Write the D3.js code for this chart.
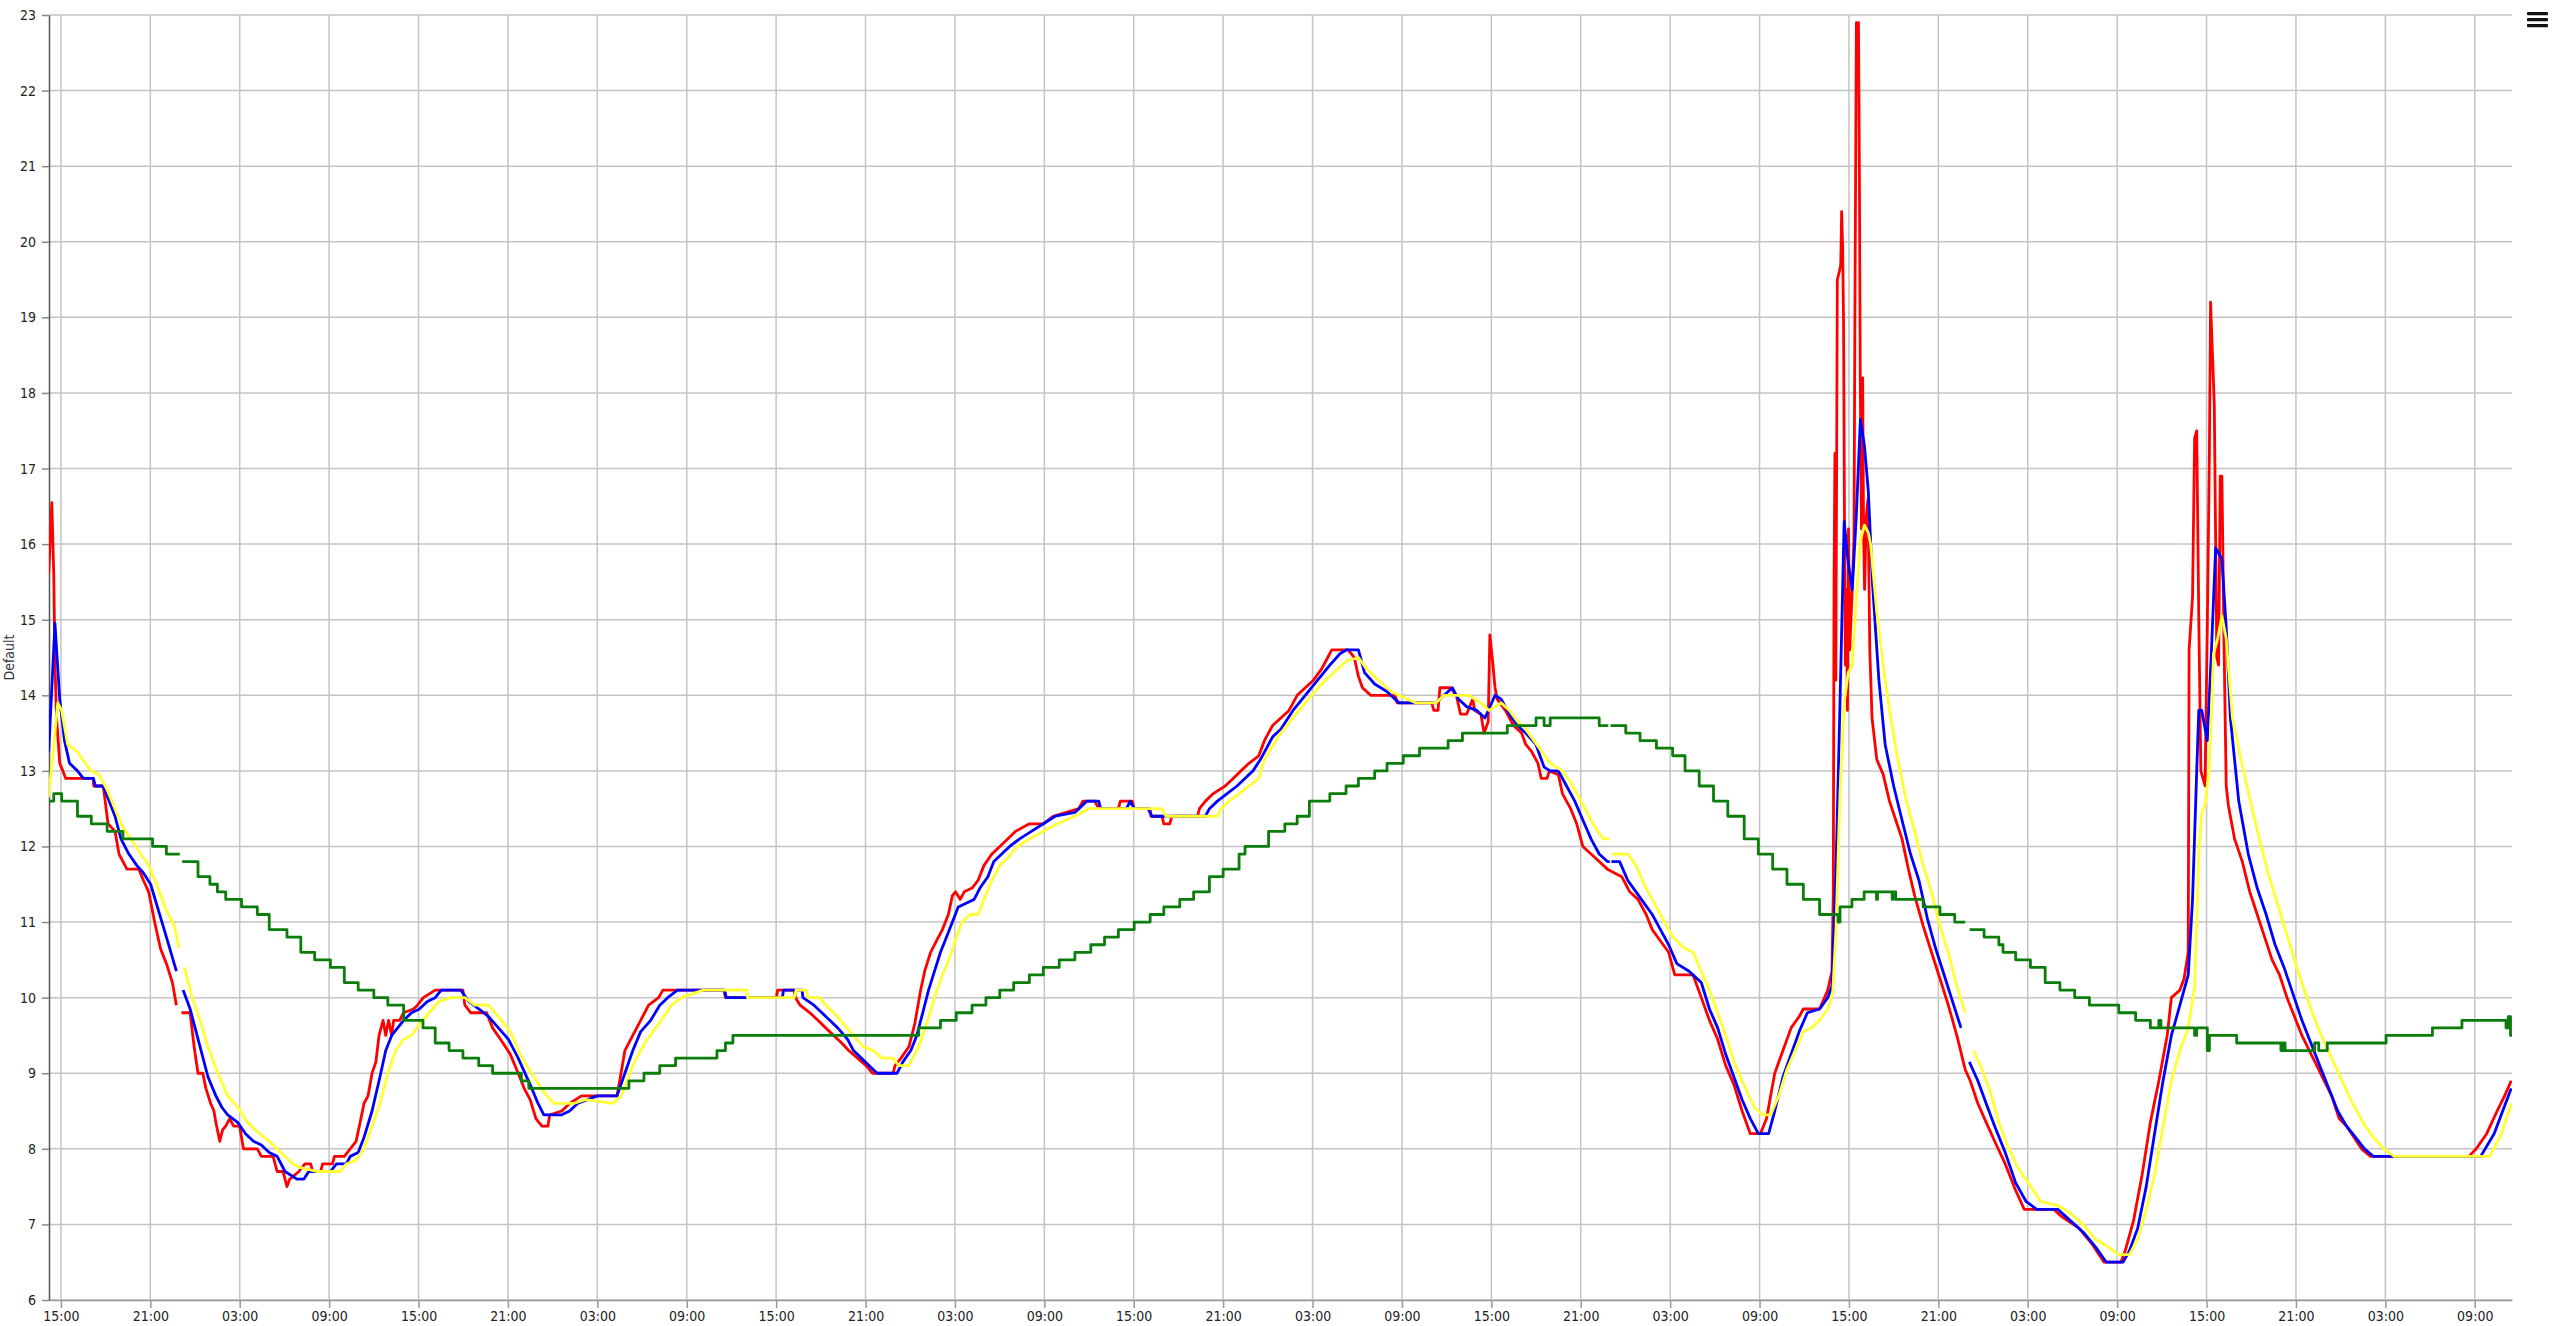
<!DOCTYPE html>
<html><head><meta charset="utf-8">
<script src="https://cdn.jsdelivr.net/npm/d3@7"></script>
<style>html,body{margin:0;padding:0;background:#fff;overflow:hidden}svg{display:block}</style>
</head><body>
<svg id="chart" width="2560" height="1326"></svg>
<script>
// ---- data: time in hours after the first 15:00 tick, value ----
const xTickHours = [0,6,12,18,24,30,36,42,48,54,60,66,72,78,84,90,96,102,108,114,120,126,132,138,144,150,156,162];
const xTickLabels = ["15:00","21:00","03:00","09:00","15:00","21:00","03:00","09:00","15:00","21:00","03:00","09:00","15:00","21:00","03:00","09:00","15:00","21:00","03:00","09:00","15:00","21:00","03:00","09:00","15:00","21:00","03:00","09:00"];
const yTicks = [6,7,8,9,10,11,12,13,14,15,16,17,18,19,20,21,22,23];
const yTitle = "Default";

const red = [[-0.82,15.6],[-0.61,16.55],[-0.48,15.6],[-0.4,14.4],[-0.29,13.7],[-0.08,13.1],[0.13,13.0],[0.32,12.9],[2.17,12.9],[2.2,12.8],[2.84,12.8],[2.97,12.6],[3.16,12.3],[3.63,12.2],[3.9,11.9],[4.43,11.7],[5.23,11.7],[5.54,11.55],[5.89,11.4],[6.29,11.0],[6.68,10.65],[7.08,10.45],[7.48,10.2],[7.75,9.9],[7.9,null],[8.09,9.8],[8.67,9.8],[8.94,9.35],[9.2,9.0],[9.52,9.0],[9.73,8.8],[10.05,8.6],[10.27,8.5],[10.4,8.35],[10.66,8.1],[10.85,8.25],[11.06,8.3],[11.33,8.4],[11.59,8.3],[11.99,8.3],[12.25,8.0],[13.18,8.0],[13.45,7.9],[14.24,7.9],[14.51,7.7],[14.91,7.7],[15.17,7.5],[15.36,7.6],[15.97,7.7],[16.37,7.8],[16.76,7.8],[16.9,7.7],[17.43,7.7],[17.56,7.8],[18.22,7.8],[18.36,7.9],[19.02,7.9],[19.81,8.1],[20.08,8.35],[20.34,8.6],[20.61,8.7],[20.88,9.0],[21.14,9.15],[21.35,9.5],[21.62,9.7],[21.8,9.5],[21.99,9.7],[22.2,9.5],[22.33,9.7],[22.73,9.7],[23.0,9.8],[23.66,9.85],[23.93,9.9],[24.32,10.0],[25.12,10.1],[26.98,10.1],[27.11,9.9],[27.51,9.8],[28.57,9.8],[28.97,9.6],[29.5,9.45],[30.16,9.25],[30.69,9.0],[31.09,8.8],[31.49,8.65],[31.88,8.4],[32.28,8.3],[32.68,8.3],[32.81,8.45],[33.61,8.5],[34.14,8.6],[34.93,8.7],[37.32,8.7],[37.59,9.0],[37.85,9.3],[38.38,9.5],[38.91,9.7],[39.44,9.9],[40.11,10.0],[40.4,10.1],[44.49,10.1],[44.6,10.0],[48.02,10.0],[48.1,10.1],[49.2,10.1],[49.3,10.0],[49.61,9.9],[50.27,9.8],[50.8,9.7],[51.33,9.6],[51.86,9.5],[52.4,9.4],[52.87,9.3],[53.46,9.2],[54.04,9.1],[54.47,9.0],[55.85,9.0],[55.98,9.1],[56.38,9.2],[56.91,9.35],[57.3,9.65],[57.7,10.1],[57.97,10.35],[58.37,10.6],[58.76,10.75],[59.16,10.9],[59.56,11.1],[59.83,11.35],[60.04,11.4],[60.36,11.3],[60.62,11.4],[61.15,11.45],[61.55,11.55],[61.95,11.75],[62.48,11.9],[63.01,12.0],[63.54,12.1],[64.07,12.2],[65.0,12.3],[65.93,12.3],[66.59,12.4],[68.32,12.5],[68.58,12.6],[69.38,12.6],[69.65,12.5],[70.97,12.5],[71.1,12.6],[71.9,12.6],[72.03,12.5],[73.1,12.5],[73.15,12.4],[73.89,12.4],[74.02,12.3],[74.42,12.3],[74.56,12.4],[76.28,12.4],[76.41,12.5],[76.81,12.6],[77.34,12.7],[78.14,12.8],[78.67,12.9],[79.2,13.0],[79.73,13.1],[80.39,13.2],[80.77,13.4],[81.32,13.6],[81.87,13.7],[82.42,13.8],[82.97,14.0],[83.51,14.1],[84.06,14.2],[84.61,14.35],[85.02,14.5],[85.29,14.6],[86.39,14.6],[86.8,14.5],[87.08,14.25],[87.35,14.1],[87.9,14.0],[89.54,14.0],[89.68,13.9],[92.0,13.9],[92.14,13.8],[92.42,13.8],[92.55,14.1],[93.24,14.1],[93.65,14.0],[93.93,13.75],[94.34,13.75],[94.75,13.95],[94.88,13.8],[95.3,13.75],[95.51,13.5],[95.79,13.65],[95.9,14.8],[96.06,14.5],[96.25,14.1],[96.39,13.95],[96.94,13.8],[97.49,13.6],[98.03,13.5],[98.31,13.35],[98.72,13.25],[99.13,13.1],[99.35,12.9],[99.73,12.9],[99.9,13.0],[100.5,12.95],[100.77,12.7],[101.32,12.5],[101.73,12.3],[102.14,12.0],[102.69,11.9],[103.24,11.8],[103.79,11.7],[104.75,11.6],[105.29,11.4],[105.84,11.3],[106.39,11.1],[106.8,10.9],[107.35,10.75],[107.9,10.6],[108.31,10.3],[109.54,10.3],[110.09,10.0],[110.64,9.7],[111.19,9.45],[111.73,9.1],[112.28,8.85],[112.83,8.5],[113.38,8.2],[114.06,8.2],[114.47,8.4],[115.02,9.0],[115.57,9.3],[116.12,9.6],[116.66,9.75],[116.94,9.85],[118.03,9.85],[118.58,10.1],[118.86,10.35],[118.95,11.4],[119.0,15.5],[119.06,17.2],[119.12,14.2],[119.22,19.5],[119.35,19.6],[119.45,19.7],[119.51,20.4],[119.58,19.9],[119.64,18.9],[119.7,16.3],[119.76,14.4],[119.82,15.4],[119.9,13.8],[119.97,16.2],[120.05,14.6],[120.2,15.3],[120.34,16.1],[120.4,19.0],[120.5,22.9],[120.64,22.9],[120.7,21.0],[120.76,18.2],[120.84,16.2],[120.92,18.2],[120.98,16.2],[121.05,15.4],[121.16,16.35],[121.28,16.6],[121.4,14.6],[121.55,13.7],[121.87,13.15],[122.3,12.95],[122.72,12.6],[123.14,12.35],[123.56,12.1],[123.99,11.7],[124.41,11.35],[124.98,10.95],[125.54,10.6],[126.11,10.25],[126.67,9.9],[127.24,9.5],[127.8,9.05],[128.14,8.9],[128.65,8.6],[129.21,8.35],[129.78,8.1],[130.49,7.8],[131.19,7.45],[131.76,7.2],[133.73,7.2],[134.3,7.1],[135.43,6.95],[136.28,6.75],[137.12,6.5],[138.25,6.5],[138.54,6.65],[139.1,7.05],[139.67,7.65],[140.23,8.35],[140.8,8.9],[141.36,9.5],[141.64,10.0],[142.21,10.1],[142.49,10.25],[142.77,10.6],[142.83,14.6],[143.06,15.3],[143.2,17.4],[143.34,17.5],[143.48,15.0],[143.62,13.0],[143.9,12.8],[144.05,14.9],[144.19,17.2],[144.27,19.2],[144.38,18.6],[144.52,17.85],[144.69,14.5],[144.81,14.4],[144.92,16.9],[145.03,16.9],[145.18,14.6],[145.32,12.8],[145.46,12.55],[145.88,12.1],[146.4,11.8],[146.9,11.4],[147.4,11.1],[147.9,10.8],[148.4,10.5],[148.9,10.3],[149.4,10.0],[149.9,9.75],[150.4,9.5],[150.9,9.3],[151.4,9.1],[151.9,8.9],[152.4,8.7],[152.9,8.4],[153.4,8.3],[153.9,8.15],[154.4,8.0],[155.0,7.9],[161.6,7.9],[162.1,8.0],[162.8,8.2],[163.5,8.5],[164.0,8.7],[164.45,8.9]];

const blue = [[-0.82,13.25],[-0.4,14.95],[-0.08,13.95],[0.24,13.4],[0.58,13.1],[1.11,13.0],[1.51,12.9],[2.18,12.9],[2.31,12.8],[2.84,12.8],[3.24,12.6],[3.63,12.4],[4.03,12.1],[4.56,11.9],[5.09,11.75],[5.54,11.65],[6.02,11.5],[6.55,11.15],[7.08,10.8],[7.75,10.35],[8.0,null],[8.2,10.1],[8.67,9.85],[8.94,9.65],[9.34,9.35],[9.87,8.95],[10.4,8.7],[10.8,8.55],[11.19,8.45],[11.86,8.35],[12.39,8.2],[12.92,8.1],[13.45,8.05],[13.98,7.95],[14.51,7.9],[15.04,7.7],[15.84,7.6],[16.31,7.6],[16.63,7.7],[18.09,7.7],[18.49,7.8],[19.15,7.8],[19.42,7.9],[19.95,7.95],[20.34,8.15],[20.88,8.5],[21.41,8.95],[21.8,9.3],[22.2,9.5],[22.6,9.6],[23.0,9.7],[23.53,9.8],[24.06,9.85],[24.59,9.95],[25.12,10.0],[25.52,10.1],[26.84,10.1],[27.37,9.95],[28.04,9.85],[28.7,9.75],[29.36,9.6],[30.03,9.45],[30.69,9.2],[31.49,8.85],[32.02,8.6],[32.41,8.45],[33.61,8.45],[34.14,8.5],[34.67,8.6],[36.0,8.7],[37.32,8.7],[37.85,9.0],[38.38,9.3],[38.91,9.55],[39.58,9.7],[40.19,9.9],[40.72,10.0],[41.38,10.1],[44.55,10.1],[44.65,10.0],[48.41,10.0],[48.5,10.1],[49.74,10.1],[49.8,10.0],[50.54,9.9],[51.07,9.8],[51.6,9.7],[52.13,9.6],[52.79,9.45],[53.19,9.3],[53.72,9.2],[54.25,9.1],[54.78,9.0],[56.11,9.0],[56.51,9.15],[57.04,9.3],[57.44,9.5],[57.84,9.8],[58.23,10.1],[58.63,10.35],[59.03,10.6],[59.43,10.8],[59.83,11.0],[60.22,11.2],[60.75,11.25],[61.29,11.3],[61.68,11.45],[62.21,11.6],[62.61,11.8],[63.14,11.9],[63.67,12.0],[64.34,12.1],[65.13,12.2],[65.93,12.3],[66.73,12.4],[68.05,12.45],[68.85,12.6],[69.65,12.6],[69.78,12.5],[71.5,12.5],[71.77,12.6],[72.03,12.5],[72.96,12.5],[73.23,12.4],[76.81,12.4],[77.08,12.5],[77.61,12.6],[78.27,12.7],[78.93,12.8],[79.46,12.9],[80.0,13.0],[80.5,13.15],[81.32,13.45],[81.87,13.55],[82.69,13.8],[83.51,14.0],[84.34,14.2],[85.16,14.4],[85.84,14.55],[86.25,14.6],[87.08,14.6],[87.49,14.3],[88.17,14.15],[88.99,14.05],[89.81,13.9],[92.28,13.9],[92.83,14.0],[93.38,14.1],[93.79,13.95],[94.34,13.85],[95.02,13.8],[95.57,13.7],[96.25,14.0],[96.66,13.95],[97.21,13.75],[97.76,13.6],[98.31,13.5],[98.99,13.35],[99.54,13.05],[99.95,13.0],[100.5,13.0],[101.05,12.8],[101.6,12.6],[102.14,12.35],[102.69,12.1],[103.24,11.9],[103.79,11.8],[103.95,11.8],[104.0,null],[104.06,11.8],[104.61,11.8],[105.16,11.55],[105.71,11.4],[106.25,11.25],[106.8,11.1],[107.35,10.9],[107.9,10.7],[108.45,10.45],[109.27,10.35],[110.09,10.2],[110.64,9.85],[111.19,9.6],[111.73,9.25],[112.28,8.95],[112.83,8.65],[113.38,8.4],[113.92,8.2],[114.61,8.2],[115.02,8.5],[115.57,8.95],[116.12,9.25],[116.66,9.55],[117.21,9.8],[118.03,9.85],[118.58,10.0],[118.86,10.15],[119.13,11.7],[119.4,13.9],[119.68,16.3],[119.95,15.75],[120.22,15.4],[120.5,16.4],[120.77,17.65],[121.04,17.3],[121.3,16.7],[121.59,15.45],[122.01,14.2],[122.43,13.35],[123.0,12.8],[123.56,12.35],[124.13,11.9],[124.7,11.55],[125.26,11.05],[125.82,10.65],[126.39,10.3],[126.95,9.95],[127.52,9.6],[127.8,null],[128.08,9.15],[128.65,8.9],[129.21,8.6],[129.78,8.3],[130.49,7.95],[131.19,7.55],[131.9,7.3],[132.6,7.2],[134.02,7.2],[134.58,7.1],[135.71,6.9],[136.56,6.7],[137.27,6.5],[138.39,6.5],[138.82,6.65],[139.38,6.95],[139.95,7.5],[140.51,8.2],[141.08,8.9],[141.64,9.5],[142.21,9.9],[142.77,10.3],[143.06,11.3],[143.34,13.0],[143.48,13.8],[143.68,13.8],[144.05,13.4],[144.33,14.6],[144.61,15.95],[145.03,15.8],[145.32,14.9],[145.6,13.7],[146.16,12.6],[146.8,11.9],[147.4,11.45],[148.0,11.1],[148.6,10.7],[149.2,10.4],[149.8,10.05],[150.4,9.7],[151.0,9.4],[151.6,9.1],[152.2,8.8],[152.8,8.5],[153.4,8.3],[154.0,8.15],[154.6,8.0],[155.2,7.9],[162.4,7.9],[163.3,8.2],[164.45,8.8]];

const yellow = [[-0.82,12.65],[-0.21,13.9],[0.05,13.8],[0.45,13.35],[1.11,13.25],[1.64,13.1],[2.04,13.0],[2.57,12.95],[3.1,12.75],[3.63,12.5],[4.16,12.25],[4.69,12.1],[5.36,11.9],[5.89,11.75],[6.42,11.5],[7.08,11.15],[7.61,10.95],[7.93,10.65],[8.1,null],[8.28,10.4],[8.81,10.0],[9.34,9.7],[9.87,9.35],[10.53,9.0],[11.19,8.7],[11.86,8.55],[12.52,8.35],[13.32,8.2],[13.98,8.1],[14.77,7.95],[15.57,7.8],[16.1,7.75],[17.16,7.7],[18.75,7.7],[19.15,7.8],[19.81,7.85],[20.34,8.0],[20.88,8.3],[21.41,8.6],[21.94,9.0],[22.47,9.3],[23.0,9.45],[23.53,9.5],[24.06,9.65],[24.72,9.8],[25.38,9.95],[26.18,10.0],[27.11,10.0],[27.77,9.9],[28.7,9.9],[29.36,9.75],[30.16,9.55],[30.95,9.2],[31.75,8.95],[32.41,8.75],[33.08,8.6],[34.4,8.6],[35.2,8.65],[37.06,8.6],[37.59,8.7],[38.38,9.1],[39.18,9.4],[40.11,9.65],[40.98,9.9],[41.65,10.0],[43.1,10.1],[46.03,10.1],[46.08,10.0],[49.21,10.0],[49.34,10.1],[50.0,10.1],[50.14,10.0],[50.94,10.0],[51.33,9.9],[51.86,9.8],[52.53,9.65],[53.19,9.5],[53.85,9.35],[54.52,9.3],[55.1,9.2],[55.85,9.2],[56.24,9.1],[56.91,9.1],[57.17,9.2],[57.57,9.35],[58.1,9.65],[58.63,10.0],[59.16,10.3],[59.69,10.55],[60.09,10.8],[60.49,11.0],[61.02,11.1],[61.55,11.1],[61.95,11.3],[62.48,11.55],[63.01,11.75],[63.54,11.85],[64.2,12.0],[65.0,12.1],[65.93,12.2],[66.86,12.3],[68.05,12.4],[68.98,12.5],[73.89,12.5],[74.16,12.4],[77.61,12.4],[77.88,12.5],[78.4,12.6],[79.07,12.7],[79.73,12.8],[80.39,12.9],[80.77,13.15],[81.87,13.5],[82.69,13.7],[83.51,13.9],[84.61,14.15],[85.71,14.35],[86.25,14.45],[87.08,14.5],[87.62,14.35],[88.44,14.2],[89.27,14.05],[89.81,14.0],[90.91,13.9],[92.28,13.9],[92.83,14.0],[94.47,14.0],[95.3,13.9],[95.84,13.8],[96.66,13.9],[97.21,13.8],[97.76,13.65],[98.31,13.55],[98.86,13.4],[99.4,13.25],[99.95,13.1],[100.77,13.0],[101.32,12.85],[101.87,12.65],[102.42,12.45],[102.97,12.25],[103.51,12.1],[103.92,12.1],[104.0,null],[104.06,11.9],[105.16,11.9],[105.71,11.75],[106.25,11.5],[106.8,11.3],[107.35,11.1],[108.17,10.8],[108.99,10.65],[109.54,10.6],[110.09,10.35],[110.64,10.1],[111.19,9.8],[111.73,9.5],[112.28,9.15],[112.83,8.9],[113.65,8.55],[114.2,8.45],[114.75,8.45],[115.29,8.7],[115.84,9.05],[116.39,9.3],[116.94,9.55],[117.49,9.6],[118.03,9.7],[118.58,9.85],[118.91,10.05],[119.13,10.9],[119.4,12.7],[119.68,13.9],[119.95,14.3],[120.22,14.4],[120.5,15.3],[120.77,16.05],[121.04,16.25],[121.3,16.15],[121.45,16.0],[121.87,15.1],[122.29,14.4],[122.72,13.8],[123.28,13.15],[123.85,12.6],[124.41,12.2],[124.98,11.75],[125.54,11.4],[126.11,10.95],[126.67,10.6],[127.24,10.15],[127.8,9.8],[127.95,null],[128.37,9.3],[128.93,9.05],[129.5,8.75],[130.06,8.35],[130.63,8.05],[131.33,7.75],[132.04,7.55],[132.89,7.3],[134.02,7.25],[134.86,7.15],[135.71,7.0],[136.56,6.8],[137.41,6.7],[138.11,6.6],[138.82,6.6],[139.38,6.8],[139.95,7.2],[140.51,7.65],[141.08,8.3],[141.64,8.9],[142.21,9.3],[142.77,9.6],[143.2,10.15],[143.48,11.9],[143.68,12.45],[143.9,12.55],[144.19,13.05],[144.47,14.55],[144.75,14.75],[145.03,15.05],[145.32,14.75],[145.74,13.7],[146.31,13.15],[147.0,12.55],[147.6,12.05],[148.2,11.6],[148.9,11.15],[149.6,10.7],[150.3,10.25],[151.0,9.85],[151.7,9.5],[152.4,9.2],[153.1,8.9],[153.8,8.6],[154.5,8.35],[155.2,8.15],[155.9,8.0],[156.6,7.9],[163.0,7.9],[163.8,8.2],[164.45,8.6]];

const green = [[-0.82,12.6],[-0.48,12.7],[0.05,12.6],[1.11,12.4],[2.04,12.3],[3.1,12.2],[4.16,12.1],[6.15,12.0],[7.08,11.9],[7.98,11.9],[8.05,null],[8.14,11.8],[9.2,11.6],[10.0,11.5],[10.5,11.4],[11.06,11.3],[12.12,11.2],[13.18,11.1],[13.98,10.9],[15.17,10.8],[16.1,10.6],[17.03,10.5],[18.09,10.4],[19.02,10.2],[19.95,10.1],[21.0,10.0],[21.94,9.9],[23.0,9.7],[24.3,9.6],[25.12,9.4],[26.05,9.3],[26.98,9.2],[28.04,9.1],[28.97,9.0],[30.9,8.9],[31.4,8.8],[38.12,8.9],[39.13,9.0],[40.19,9.1],[41.25,9.2],[44.03,9.3],[44.6,9.4],[45.1,9.5],[57.57,9.6],[59.03,9.7],[60.09,9.8],[61.15,9.9],[62.08,10.0],[63.01,10.1],[63.94,10.2],[65.0,10.3],[65.93,10.4],[67.0,10.5],[68.05,10.6],[69.12,10.7],[70.04,10.8],[70.97,10.9],[72.03,11.0],[73.1,11.1],[74.02,11.2],[75.09,11.3],[76.02,11.4],[77.08,11.6],[78.0,11.7],[79.07,11.9],[79.47,12.0],[81.05,12.2],[82.14,12.3],[82.97,12.4],[83.79,12.6],[85.16,12.7],[86.25,12.8],[87.08,12.9],[88.17,13.0],[89.0,13.1],[90.09,13.2],[91.18,13.3],[93.1,13.4],[94.06,13.5],[97.07,13.6],[99.0,13.7],[99.54,13.6],[99.95,13.7],[103.24,13.6],[103.85,13.6],[103.9,null],[104.0,13.6],[105.02,13.5],[105.98,13.4],[107.08,13.3],[108.17,13.2],[109.0,13.0],[109.95,12.8],[110.91,12.6],[111.87,12.4],[112.97,12.1],[113.92,11.9],[114.88,11.7],[115.84,11.5],[116.94,11.3],[118.03,11.1],[119.27,11.0],[119.4,11.2],[120.2,11.3],[121.02,11.4],[121.85,11.3],[121.92,11.4],[122.9,11.3],[122.97,11.4],[123.14,11.3],[124.98,11.2],[126.11,11.1],[127.1,11.0],[127.8,11.0],[127.9,null],[128.1,10.9],[129.07,10.8],[130.06,10.7],[130.34,10.6],[131.19,10.5],[132.18,10.4],[133.17,10.2],[134.16,10.1],[135.15,10.0],[136.14,9.9],[138.11,9.8],[139.24,9.7],[140.23,9.6],[140.8,9.7],[140.94,9.6],[143.2,9.5],[143.34,9.6],[144.05,9.3],[144.19,9.5],[146.02,9.4],[148.99,9.3],[149.13,9.4],[149.27,9.3],[151.25,9.4],[151.53,9.3],[152.1,9.4],[156.05,9.5],[159.16,9.6],[161.14,9.7],[164.1,9.6],[164.25,9.75],[164.4,9.5],[164.5,9.5]];

const seriesList = [
  {name:"red", data:red, color:"#ff0000", step:false},
  {name:"blue", data:blue, color:"#0000ff", step:false},
  {name:"yellow", data:yellow, color:"#ffff33", step:false},
  {name:"green", data:green, color:"#0a7d0a", step:true}
];

// ---- layout ----
const plotLeft = 49, plotRight = 2512, plotTop = 15, plotBottom = 1300;
const svg = d3.select("#chart");
const x = d3.scaleLinear().domain([-0.8, 164.5]).range([plotLeft, plotRight]);
const y = d3.scaleLinear().domain([6, 23]).range([plotBottom, plotTop]);
const font = "'DejaVu Sans Condensed','Noto Sans',sans-serif";

// grid
const grid = svg.append("g");
grid.selectAll("line.h").data(yTicks).join("line")
  .attr("x1", plotLeft).attr("x2", plotRight)
  .attr("y1", d => y(d)).attr("y2", d => y(d))
  .attr("stroke", "#c4c4c4").attr("stroke-width", 1.5);
grid.selectAll("line.v").data(xTickHours).join("line")
  .attr("x1", d => x(d)).attr("x2", d => x(d))
  .attr("y1", plotTop).attr("y2", plotBottom)
  .attr("stroke", "#c4c4c4").attr("stroke-width", 1.5);

// axes
const xAxis = d3.axisBottom(x).tickValues(xTickHours)
  .tickFormat((d, i) => xTickLabels[i]).tickSize(8).tickSizeOuter(0);
const gx = svg.append("g").attr("transform", `translate(0,${plotBottom})`).call(xAxis);
gx.select(".domain").attr("stroke", "#999").attr("stroke-width", 1.5);
gx.selectAll(".tick line").attr("stroke", "#999").attr("stroke-width", 1.5);
gx.selectAll(".tick text").attr("font-family", font).attr("font-size", 14)
  .attr("fill", "#222").attr("y", 11).attr("dy", "0.71em");

const yAxis = d3.axisLeft(y).tickValues(yTicks).tickFormat(d3.format("d")).tickSize(7).tickSizeOuter(0);
const gy = svg.append("g").attr("transform", `translate(${plotLeft},0)`).call(yAxis);
gy.select(".domain").attr("stroke", "#555").attr("stroke-width", 1.5);
gy.selectAll(".tick line").attr("stroke", "#888").attr("stroke-width", 1.5);
gy.selectAll(".tick text").attr("font-family", font).attr("font-size", 14)
  .attr("fill", "#222").attr("x", -13);

svg.append("text").attr("transform", `translate(14,${(plotTop + plotBottom) / 2}) rotate(-90)`)
  .attr("text-anchor", "middle").attr("font-family", font).attr("font-size", 14)
  .attr("fill", "#333").text(yTitle);

// series
svg.append("clipPath").attr("id", "plotclip").append("rect")
  .attr("x", plotLeft).attr("y", plotTop - 4).attr("width", plotRight - plotLeft).attr("height", plotBottom - plotTop + 4);
const lines = svg.append("g").attr("clip-path", "url(#plotclip)");
seriesList.forEach(s => {
  const gen = d3.line()
    .defined(d => d[1] !== null)
    .x(d => x(d[0])).y(d => y(d[1]))
    .curve(s.step ? d3.curveStepAfter : d3.curveLinear);
  lines.append("path").datum(s.data)
    .attr("d", gen).attr("fill", "none")
    .attr("stroke", s.color).attr("stroke-width", 2.8)
    .attr("stroke-linejoin", "round").attr("stroke-linecap", "butt");
});

// menu icon
const menu = svg.append("g").attr("transform", "translate(2527,12)");
[0, 6, 12].forEach(o => menu.append("rect").attr("x", 0).attr("y", o).attr("width", 21).attr("height", 3.2).attr("rx", 1).attr("fill", "#111"));
</script>
</body></html>
